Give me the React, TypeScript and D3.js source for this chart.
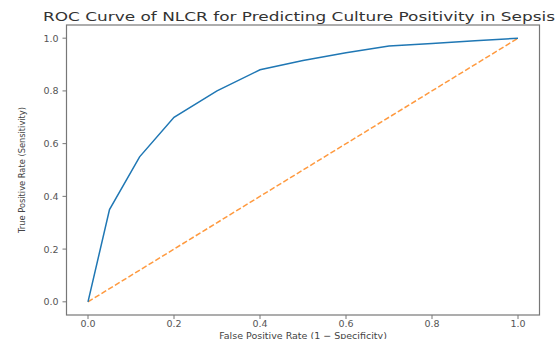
import React from "react";
import * as d3 from "d3";

const fpr = [0, 0.05, 0.12, 0.2, 0.3, 0.4, 0.5, 0.6, 0.7, 0.8, 0.9, 1.0];
const tpr = [0, 0.35, 0.55, 0.7, 0.8, 0.88, 0.915, 0.945, 0.97, 0.98, 0.99, 1.0];
const diagX = [0, 1];
const diagY = [0, 1];
const xTicks = [0, 0.2, 0.4, 0.6, 0.8, 1.0];
const yTicks = [0, 0.2, 0.4, 0.6, 0.8, 1.0];
const title = "ROC Curve of NLCR for Predicting Culture Positivity in Sepsis";
const xLabel = "False Positive Rate (1 − Specificity)";
const yLabel = "True Positive Rate (Sensitivity)";

export default function App() {
  const W = 559, H = 339;
  const left = 66.5, right = 539.5, top = 25, bottom = 315;
  const x = d3.scaleLinear().domain([-0.05, 1.05]).range([left, right]);
  const y = d3.scaleLinear().domain([-0.05, 1.05]).range([bottom, top]);
  const line = d3.line<[number, number]>().x(d => x(d[0])).y(d => y(d[1]));
  const roc = line(fpr.map((v, i) => [v, tpr[i]] as [number, number])) || "";
  const diag = line(diagX.map((v, i) => [v, diagY[i]] as [number, number])) || "";
  const font = "DejaVu Sans, sans-serif";
  return (
    <svg width={W} height={H} style={{ position: "absolute", left: 0, top: 0, background: "#fff" }}>
      <rect x={0} y={0} width={W} height={H} fill="#fff" />
      <text x={299} y={21} textAnchor="middle" fontFamily={font} fontSize={12.5} fill="#333" textLength={512} lengthAdjust="spacingAndGlyphs">{title}</text>
      <path d={diag} fill="none" stroke="#ff7f0e" strokeWidth={1.5} strokeDasharray="5.5,2.4" opacity={0.8} />
      <path d={roc} fill="none" stroke="#1f77b4" strokeWidth={1.5} />
      <rect x={left} y={top} width={right - left} height={bottom - top} fill="none" stroke="#777" strokeWidth={1.2} />
      {xTicks.map(t => (
        <g key={"x" + t}>
          <line x1={x(t)} x2={x(t)} y1={bottom} y2={bottom + 4} stroke="#777" />
          <text x={x(t)} y={bottom + 12} textAnchor="middle" fontFamily={font} fontSize={9.5} fill="#555">{t.toFixed(1)}</text>
        </g>
      ))}
      {yTicks.map(t => (
        <g key={"y" + t}>
          <line x1={left - 4} x2={left} y1={y(t)} y2={y(t)} stroke="#777" />
          <text x={left - 8} y={y(t) + 3.5} textAnchor="end" fontFamily={font} fontSize={9.5} fill="#555">{t.toFixed(1)}</text>
        </g>
      ))}
      <text x={303} y={338.5} textAnchor="middle" fontFamily={font} fontSize={9.5} fill="#444">{xLabel}</text>
      <text transform={`translate(25,${(top + bottom) / 2}) rotate(-90)`} textAnchor="middle" fontFamily={font} fontSize={8.5} fill="#444" textLength={126} lengthAdjust="spacingAndGlyphs">{yLabel}</text>
    </svg>
  );
}
